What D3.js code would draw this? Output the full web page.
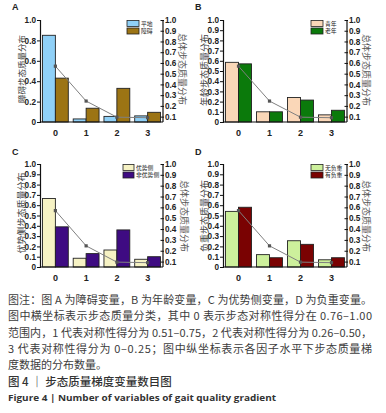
<!DOCTYPE html>
<html>
<head>
<meta charset="utf-8">
<script src="https://cdn.jsdelivr.net/npm/d3@7"></script>
<style>
  body { margin: 0; background: #fff; }
  svg { display: block; }
</style>
</head>
<body>
<div id="chart"></div>
<script>
// categories on the x axis (gait quality class)
var categories = ["0", "1", "2", "3"];

// overall gait quality distribution (right axis, line)
var totalDist = [0.57, 0.245, 0.095, 0.09];

// panel A: obstacle
var seriesA = ["平地", "障碍"];
var valuesA = [[0.85, 0.03, 0.055, 0.06], [0.43, 0.135, 0.33, 0.095]];

// panel B: age
var seriesB = ["青年", "老年"];
var valuesB = [[0.585, 0.10, 0.24, 0.07], [0.57, 0.10, 0.215, 0.115]];

// panel C: dominant side
var seriesC = ["优势侧", "非优势侧"];
var valuesC = [[0.665, 0.085, 0.165, 0.075], [0.39, 0.13, 0.36, 0.10]];

// panel D: load
var seriesD = ["无负重", "有负重"];
var valuesD = [[0.54, 0.12, 0.255, 0.07], [0.58, 0.09, 0.22, 0.09]];

var leftTicksA = [0, 0.2, 0.4, 0.6, 0.8, 1.0];
var leftTicks = [0, 0.1, 0.2, 0.3, 0.4, 0.5, 0.6, 0.7, 0.8, 0.9, 1.0];
var rightTicks = [0.1, 0.2, 0.3, 0.4, 0.5, 0.6, 0.7, 0.8, 0.9, 1.0];

var width = 386, height = 413;
var svg = d3.select("#chart").append("svg")
  .attr("width", width)
  .attr("height", height);

var numFont = "'Liberation Sans', Arial, sans-serif";
var cjkFont = "'Noto Sans CJK SC', sans-serif";

function fmt(d) { return d === 0 ? "0" : d.toFixed(1); }

function drawPanel(p) {
  var g = svg.append("g");

  var x = d3.scaleBand().domain(categories).range([p.x0, p.x1])
    .paddingInner(0.16).paddingOuter(0.08);
  var xs = d3.scaleBand().domain(p.series).range([0, x.bandwidth()]);
  var y = d3.scaleLinear().domain([0, 1]).range([p.y1, p.y0]);
  var yr = d3.scaleLinear().domain([0.05, 1]).range([p.y1, p.y0]);

  // bars
  p.series.forEach(function(s, si) {
    g.selectAll(null)
      .data(p.values[si])
      .enter()
      .append("rect")
      .attr("x", function(d, i) { return x(categories[i]) + xs(s); })
      .attr("y", function(d) { return y(d); })
      .attr("width", xs.bandwidth())
      .attr("height", function(d) { return y(0) - y(d); })
      .attr("fill", p.colors[si])
      .attr("stroke", "#222")
      .attr("stroke-width", 0.9);
  });

  // total distribution line
  var line = d3.line()
    .x(function(d, i) { return x(categories[i]) + x.bandwidth() / 2; })
    .y(function(d) { return yr(d); });
  g.append("path")
    .datum(totalDist)
    .attr("d", line)
    .attr("fill", "none")
    .attr("stroke", "#808080")
    .attr("stroke-width", 1);
  g.selectAll(null)
    .data(totalDist)
    .enter()
    .append("rect")
    .attr("x", function(d, i) { return x(categories[i]) + x.bandwidth() / 2 - 1.6; })
    .attr("y", function(d) { return yr(d) - 1.6; })
    .attr("width", 3.2)
    .attr("height", 3.2)
    .attr("fill", "#555");

  // left axis
  var la = g.append("g")
    .attr("transform", "translate(" + p.x0 + ",0)")
    .call(d3.axisLeft(y).tickValues(p.leftTicks).tickFormat(fmt).tickSize(3).tickPadding(1));
  // right axis
  var ra = g.append("g")
    .attr("transform", "translate(" + p.x1 + ",0)")
    .call(d3.axisRight(yr).tickValues(rightTicks).tickFormat(fmt).tickSize(1).tickPadding(1));
  ra.selectAll(".tick line").attr("x1", -2.5).attr("x2", 1);
  ra.select(".domain").attr("d", "M0," + p.y0 + "V" + p.y1);
  // x axis
  var xa = g.append("g")
    .attr("transform", "translate(0," + p.y1 + ")")
    .call(d3.axisBottom(x).tickSize(0).tickPadding(8));
  xa.select(".domain").attr("d", "M" + p.x0 + ",0H" + p.x1);

  [la, ra, xa].forEach(function(a) {
    a.selectAll(".domain").attr("stroke", "#111").attr("stroke-width", 1.2);
    a.selectAll(".tick line").attr("stroke", "#111");
    a.selectAll("text")
      .attr("font-family", numFont)
      .attr("font-weight", "bold")
      .attr("font-size", 8.2)
      .attr("fill", "#222");
  });
  xa.selectAll("text").attr("font-size", 9);

  // panel letter
  g.append("text")
    .attr("x", p.lx).attr("y", p.ly)
    .attr("font-family", numFont)
    .attr("font-weight", "bold")
    .attr("font-size", 9)
    .attr("fill", "#222")
    .text(p.letter);

  // axis titles
  g.append("text")
    .attr("transform", "translate(" + (p.x0 - 15) + "," + p.leftMid + ") rotate(-90)")
    .attr("text-anchor", "middle")
    .attr("font-family", cjkFont)
    .attr("font-size", p.titleSize)
    .attr("fill", "#444")
    .text(p.leftTitle);
  g.append("text")
    .attr("transform", "translate(" + (p.x1 + p.rightOff) + "," + p.rightMid + ") rotate(90)")
    .attr("text-anchor", "middle")
    .attr("font-family", cjkFont)
    .attr("font-size", 9)
    .attr("fill", "#555")
    .text("总体步态质量分布");

  // legend
  p.series.forEach(function(s, si) {
    g.append("rect")
      .attr("x", p.legX)
      .attr("y", p.y0 + 0.5 + si * 7.5)
      .attr("width", p.legW)
      .attr("height", 6)
      .attr("fill", p.colors[si])
      .attr("stroke", "#222")
      .attr("stroke-width", 0.8);
    g.append("text")
      .attr("x", p.legX + p.legW + 2)
      .attr("y", p.y0 + 5.6 + si * 7.5)
      .attr("font-family", cjkFont)
      .attr("font-size", 5.8)
      .attr("fill", "#222")
      .text(s);
  });
}

drawPanel({ letter: "A", lx: 12, ly: 10, x0: 40, x1: 163, y0: 20, y1: 122,
  series: seriesA, values: valuesA, colors: ["#8fd0f7", "#9c7414"],
  leftTicks: leftTicksA, leftTitle: "障碍步态质量分布",
  leftMid: 69, rightOff: 16, rightMid: 69, titleSize: 8.5,
  legX: 127, legW: 12 });
drawPanel({ letter: "B", lx: 195, ly: 10, x0: 223, x1: 347, y0: 20, y1: 122,
  series: seriesB, values: valuesB, colors: ["#fad7b8", "#0b7a0b"],
  leftTicks: leftTicks, leftTitle: "年龄步态质量分布",
  leftMid: 70, rightOff: 16, rightMid: 70, titleSize: 9,
  legX: 311, legW: 12 });
drawPanel({ letter: "C", lx: 12, ly: 155, x0: 40, x1: 163, y0: 164, y1: 267,
  series: seriesC, values: valuesC, colors: ["#f6f2c4", "#3e0b82"],
  leftTicks: leftTicks, leftTitle: "优势侧步态质量分布",
  leftMid: 213, rightOff: 18, rightMid: 216, titleSize: 9,
  legX: 123, legW: 11 });
drawPanel({ letter: "D", lx: 195, ly: 155, x0: 223, x1: 347, y0: 164, y1: 267,
  series: seriesD, values: valuesD, colors: ["#cdf09c", "#7a0202"],
  leftTicks: leftTicks, leftTitle: "负重步态质量分布",
  leftMid: 216, rightOff: 16, rightMid: 216, titleSize: 9,
  legX: 311, legW: 12 });

// caption
var captionLines = [
  "图注：图 A 为障碍变量，B 为年龄变量，C 为优势侧变量，D 为负重变量。",
  "图中横坐标表示步态质量分类，其中 0 表示步态对称性得分在 0.76–1.00",
  "范围内，1 代表对称性得分为 0.51–0.75，2 代表对称性得分为 0.26–0.50，",
  "3 代表对称性得分为 0–0.25；图中纵坐标表示各因子水平下步态质量梯",
  "度数据的分布数量。"
];
captionLines.forEach(function(t, i) {
  var txt = svg.append("text")
    .attr("x", 8)
    .attr("y", 304 + i * 16.3)
    .attr("font-family", cjkFont)
    .attr("font-size", 11)
    .attr("fill", "#3c3c3c")
    .text(t);
  if (i < 4) txt.attr("textLength", 364).attr("lengthAdjust", "spacing");
});
svg.append("text")
  .attr("x", 8).attr("y", 386)
  .attr("font-family", cjkFont)
  .attr("font-size", 11.5)
  .attr("font-weight", 500)
  .attr("fill", "#333")
  .text("图 4 ｜ 步态质量梯度变量数目图");
svg.append("text")
  .attr("x", 8).attr("y", 401)
  .attr("font-family", "'Open Sans', sans-serif")
  .attr("font-size", 9.5)
  .attr("font-weight", "bold")
  .attr("fill", "#333")
  .attr("textLength", 268)
  .attr("lengthAdjust", "spacingAndGlyphs")
  .text("Figure 4  |  Number of variables of gait quality gradient");
</script>
</body>
</html>
